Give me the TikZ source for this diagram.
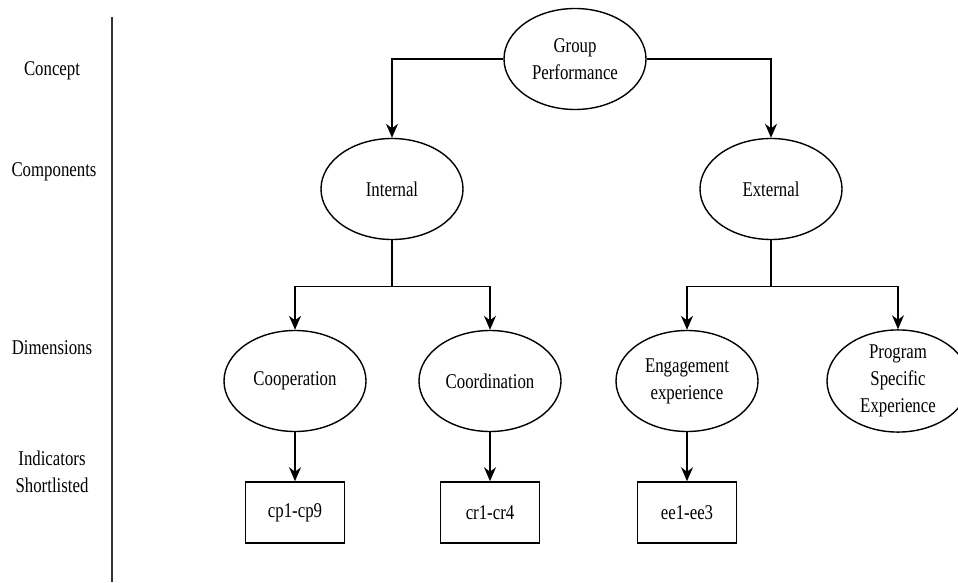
\documentclass[tikz,border=0pt]{standalone}
\usepackage{fontspec}
\setmainfont{Liberation Serif}[FakeStretch=0.8]
\usetikzlibrary{arrows.meta,shapes.geometric,positioning}

\begin{document}
\begin{tikzpicture}[x=1pt,y=1pt]
	\tikzset{konzept/.style = {draw, ellipse, line width=1.4pt, minimum width=142pt,
			minimum height=101pt, inner sep=0pt, align=center}}
	\tikzset{indikator/.style = {draw, rectangle, line width=1.4pt, minimum width=99pt,
			minimum height=61pt}}
	\tikzset{ebene/.style = {align=center}}
	\tikzset{pfeil/.style = {-{Stealth[length=14pt,width=12pt]}, line width=1.4pt}}
	\tikzset{every node/.style = {font=\fontsize{21}{27}\selectfont}}
	\useasboundingbox (0,0) rectangle (958,582);
	
	% Ebenen
	\node[ebene] (concept) at (52,511) {Concept};
	\node[ebene] (components) at (54,410) {Components};
	\node[ebene] (dimensions) at (52,234) {Dimensions};
	\node[ebene] (indicators) at (52,110) {Indicators\\Shortlisted};
	\coordinate (ltop) at (112,565);
	\coordinate (lbot) at (112,0);
	\draw[line width=1.4pt, black!80] (ltop) -- (lbot);
	
	% Knoten
	\node[konzept] (gp) at (575,523) {Group\\Performance};
	\node[konzept] (int) at (392,393) {Internal};
	\node[konzept] (ext) at (771,393) {External};
	\node[konzept] (coop) at (295,201) {Cooperation};
	\node[konzept] (coord) at (490,201) {Coordination};
	\node[konzept] (eng) at (687,201) {Engagement\\experience};
	\node[konzept] (prog) at (898,201) {Program\\Specific\\Experience};
	\node[indikator, below=49pt of coop] (cp) {cp1-cp9};
	\node[indikator, below=49pt of coord] (cr) {cr1-cr4};
	\node[indikator, below=49pt of eng] (ee) {ee1-ee3};
	
	% Kanten
	\draw[pfeil] (gp.west) -| (int.north);
	\draw[pfeil] (gp.east) -| (ext.north);
	\draw[line width=1.4pt] (int.south) -- ++(0,-46) coordinate (intj);
	\draw[pfeil] (intj) -| (coop.north);
	\draw[pfeil] (intj) -| (coord.north);
	\draw[line width=1.4pt] (ext.south) -- ++(0,-46) coordinate (extj);
	\draw[pfeil] (extj) -| (eng.north);
	\draw[pfeil] (extj) -| (prog.north);
	\draw[pfeil] (coop) -- (cp);
	\draw[pfeil] (coord) -- (cr);
	\draw[pfeil] (eng) -- (ee);
	
\end{tikzpicture}
\end{document}
